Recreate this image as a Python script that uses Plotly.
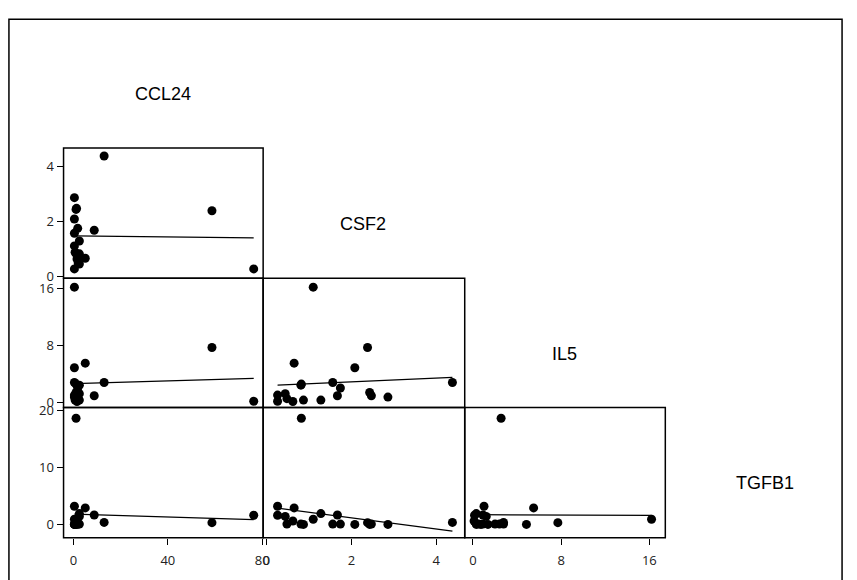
import numpy as np
import plotly.graph_objects as go

# Cytokine measurements, one entry per sample
ccl24 = [13.0, 58.7, 76.4, 0.4, 1.1, 5.0, 8.8, 0.4, 0.4, 0.4,
         2.5, 2.5, 1.5, 2.0, 2.5, 0.7, 0.4, 1.8, 1.1, 1.3]
csf2 = [4.38, 2.38, 0.26, 1.10, 0.82, 0.65, 1.67, 2.08, 0.26, 2.86,
        0.44, 1.28, 0.62, 0.48, 0.81, 0.87, 1.56, 1.74, 2.43, 2.47]
il5 = [2.77, 7.7, 0.14, 16.2, 2.55, 5.5, 0.9, 4.85, 1.0, 0.72,
       1.2, 0.3, 0.1, 0.5, 2.4, 0.3, 2.77, 2.0, 1.36, 0.9]
tgfb1 = [0.35, 0.3, 1.6, 0.9, 18.7, 2.9, 1.66, 0.0, 3.2, 0.0,
         1.4, 1.9, 0.6, 0.05, 0.05, 0.0, 0.05, 0.05, 0.0, 0.05]

var_names = ["CCL24", "CSF2", "IL5", "TGFB1"]
var_data = {"CCL24": ccl24, "CSF2": csf2, "IL5": il5, "TGFB1": tgfb1}
var_ticks = {"CCL24": [0, 40, 80], "CSF2": [0, 2, 4], "IL5": [0, 8, 16], "TGFB1": [0, 10, 20]}
var_range = {"CCL24": [-4.2, 80.4], "CSF2": [-0.08, 4.67], "IL5": [-0.75, 17.45], "TGFB1": [-2.36, 20.6]}

W, H = 857, 580
col_px = [(64, 265), (265, 468), (468, 670), (670, 872)]
row_px = [(12, 145), (145, 278), (278, 410), (410, 543)]


def px_x(p):
    return p / W


def px_y(p):
    return 1 - p / H


fig = go.Figure()
layout = {}
shapes = []
tick_font = dict(family="Open Sans, DejaVu Sans, sans-serif", size=13, color="#222222")

n = 0
for r in range(1, 4):
    for c in range(0, r):
        n += 1
        xv, yv = var_names[c], var_names[r]
        xs = np.array(var_data[xv], dtype=float)
        ys = np.array(var_data[yv], dtype=float)
        xa = "x" if n == 1 else f"x{n}"
        ya = "y" if n == 1 else f"y{n}"
        fig.add_trace(go.Scatter(
            x=xs, y=ys, mode="markers", xaxis=xa, yaxis=ya,
            marker=dict(color="black", size=9), showlegend=False, cliponaxis=False))
        # least-squares fit over the observed range
        slope, icpt = np.polyfit(xs, ys, 1)
        lx = np.array([xs.min(), xs.max()])
        fig.add_trace(go.Scatter(
            x=lx, y=icpt + slope * lx, mode="lines", xaxis=xa, yaxis=ya,
            line=dict(color="black", width=1.2), showlegend=False))
        show_x = (r == 3)
        show_y = (c == 0)
        x0, x1 = col_px[c]
        y0, y1 = row_px[r]
        layout["xaxis" if n == 1 else f"xaxis{n}"] = dict(
            domain=[px_x(x0), px_x(x1)], anchor=ya, range=var_range[xv],
            showgrid=False, zeroline=False, showline=False,
            tickvals=var_ticks[xv] if show_x else [], ticks="outside" if show_x else "",
            ticklen=6, tickcolor="black", tickwidth=1, ticklabelstandoff=5,
            showticklabels=show_x, tickfont=tick_font)
        layout["yaxis" if n == 1 else f"yaxis{n}"] = dict(
            domain=[px_y(y1), px_y(y0)], anchor=xa, range=var_range[yv],
            showgrid=False, zeroline=False, showline=False,
            tickvals=var_ticks[yv] if show_y else [], ticks="outside" if show_y else "",
            ticklen=6, tickcolor="black", tickwidth=1,
            showticklabels=show_y, tickfont=tick_font)
        # panel border
        shapes.append(dict(type="rect", xref="paper", yref="paper",
                           x0=px_x(x0), x1=px_x(x1), y0=px_y(y1), y1=px_y(y0),
                           line=dict(color="black", width=1.5),
                           fillcolor="rgba(0,0,0,0)", layer="above"))

# outer frame
shapes.append(dict(type="rect", xref="paper", yref="paper",
                   x0=px_x(9), x1=px_x(848), y0=px_y(610), y1=px_y(13.5),
                   line=dict(color="black", width=1.5), fillcolor="rgba(0,0,0,0)"))

# Variable names on the diagonal cells
annotations = []
label_pos = [(164, 90), (366, 223), (568, 355), (770, 487)]
for name, (lx, ly) in zip(var_names, label_pos):
    annotations.append(dict(
        x=px_x(lx), y=px_y(ly), xref="paper", yref="paper", text=name,
        showarrow=False, xanchor="center", yanchor="middle",
        font=dict(family="Liberation Sans, Arial, sans-serif", size=18, color="black")))

fig.update_layout(
    width=W, height=H, margin=dict(l=0, r=0, t=0, b=0),
    paper_bgcolor="white", plot_bgcolor="white",
    annotations=annotations, shapes=shapes,
    **layout)

fig.write_html("out.html")
